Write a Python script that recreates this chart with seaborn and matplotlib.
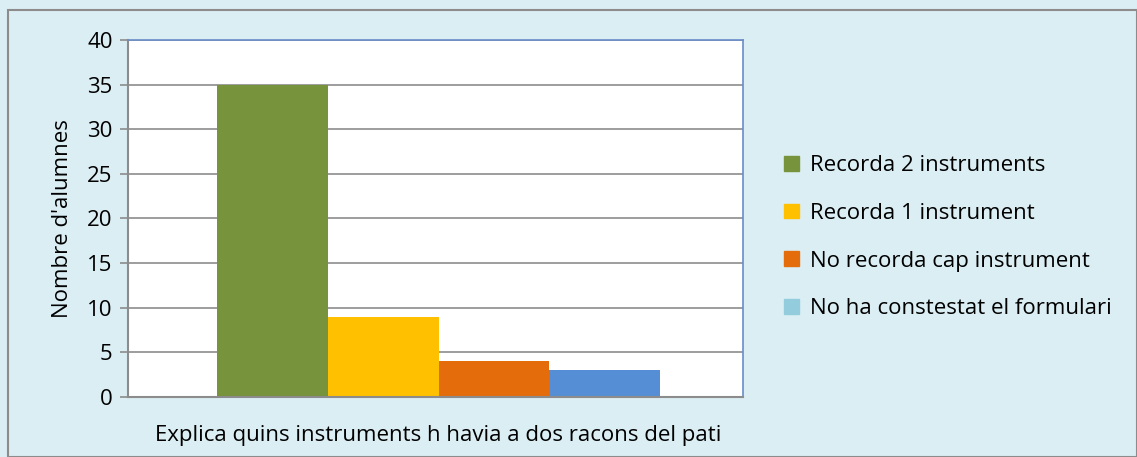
import numpy as np
import pandas as pd
import matplotlib
matplotlib.use("Agg")
import matplotlib.pyplot as plt
import matplotlib.patches as mpatches
import seaborn as sns

categories = ["Recorda 2 instruments", "Recorda 1 instrument",
              "No recorda cap instrument", "No ha constestat el formulari"]
values = [35, 9, 4, 3]
group = "Explica quins instruments h havia a dos racons del pati"
bar_colors = ["#77933C", "#FFC000", "#E46C0A", "#558ED5"]
legend_colors = ["#77933C", "#FFC000", "#E46C0A", "#93CDDD"]

df = pd.DataFrame({"grup": [group] * len(categories), "cat": categories, "n": values})

sns.set_style("white")
plt.rcParams["font.family"] = ["Open Sans", "DejaVu Sans"]
plt.rcParams["text.color"] = "black"

bg = "#DBEEF4"
fs = 16
fig = plt.figure(figsize=(11.37, 4.57), dpi=100, facecolor=bg)
ax = fig.add_axes([0.1126, 0.1313, 0.5409, 0.7812])
ax.set_facecolor("white")

sns.barplot(data=df, x="grup", y="n", hue="cat", hue_order=categories,
            palette=bar_colors, width=0.72, saturation=1, linewidth=0,
            ax=ax, legend=False)

ax.set_xlim(-0.505, 0.495)
ax.set_ylim(0, 40)
ax.set_yticks(np.arange(0, 41, 5))
ax.yaxis.grid(True, color="#8C8C8C", linewidth=1.2)
ax.set_axisbelow(True)
ax.tick_params(axis="y", labelsize=fs, labelcolor="black", length=6, width=1.2,
               color="#8C8C8C", left=True, pad=5)
ax.tick_params(axis="x", labelsize=fs, labelcolor="black", length=0, pad=20)
ax.set_xlabel("")
ax.set_ylabel("Nombre d'alumnes", fontsize=fs, color="black", labelpad=10)

for side in ["left", "bottom"]:
    ax.spines[side].set_color("#8C8C8C")
    ax.spines[side].set_linewidth(1.5)
for side in ["top", "right"]:
    ax.spines[side].set_visible(True)
    ax.spines[side].set_color("#6A8CC8")
    ax.spines[side].set_linewidth(1.2)

handles = [mpatches.Patch(color=c, label=l) for c, l in zip(legend_colors, categories)]
fig.legend(handles=handles, loc="center left", bbox_to_anchor=(0.682, 0.481),
           frameon=False, fontsize=fs, handlelength=0.65, handleheight=0.65,
           handletextpad=0.5, labelspacing=1.2, borderaxespad=0)

fig.patches.append(mpatches.Rectangle((0.007, 0.0), 0.993, 0.978, transform=fig.transFigure,
                                      fill=False, edgecolor="#8C8C8C", linewidth=1.5))

fig.savefig("out.png", dpi=100, facecolor=bg)
